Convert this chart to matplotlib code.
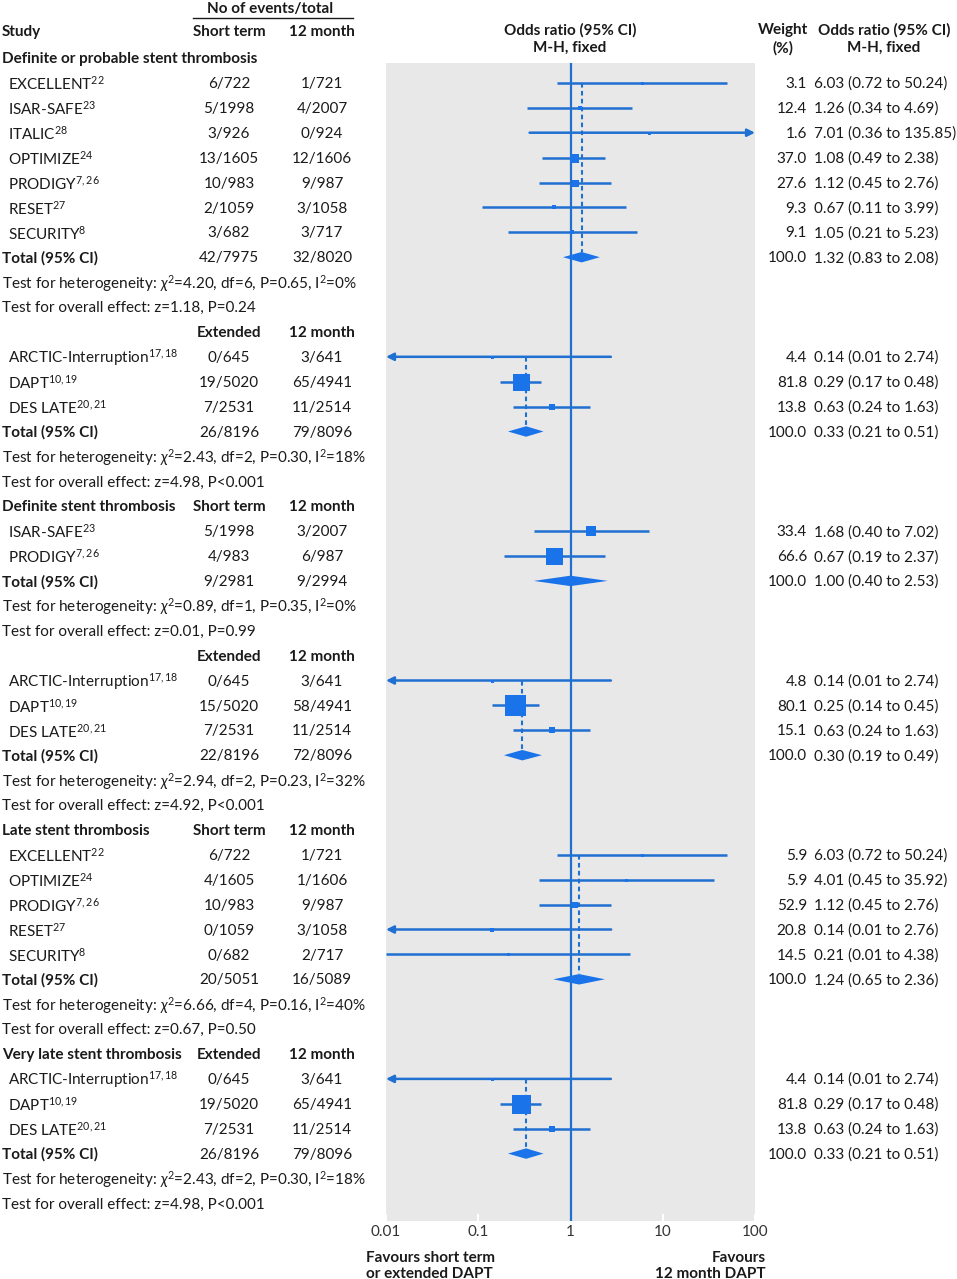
import numpy as np
import matplotlib
matplotlib.use("Agg")
import matplotlib.pyplot as plt

# Fonte e mathtext (para os sobrescritos)
plt.rcParams['font.family'] = ['Lato', 'DejaVu Sans']
plt.rcParams['mathtext.fontset'] = 'custom'
plt.rcParams['mathtext.rm'] = 'Lato'
plt.rcParams['mathtext.it'] = 'Lato:italic'
plt.rcParams['mathtext.bf'] = 'Lato:bold'

# ---------------- dados ----------------
group_titles = ["Definite or probable stent thrombosis", "", "Definite stent thrombosis",
                "", "Late stent thrombosis", "Very late stent thrombosis"]
group_arms = ["", "Extended", "Short term", "Extended", "Short term", "Extended"]

study_group = [0, 0, 0, 0, 0, 0, 0, 1, 1, 1, 2, 2, 3, 3, 3, 4, 4, 4, 4, 4, 5, 5, 5]
study_names = ["EXCELLENT$^{\\mathrm{22}}$", "ISAR-SAFE$^{\\mathrm{23}}$", "ITALIC$^{\\mathrm{28}}$",
               "OPTIMIZE$^{\\mathrm{24}}$", "PRODIGY$^{\\mathrm{7,26}}$", "RESET$^{\\mathrm{27}}$",
               "SECURITY$^{\\mathrm{8}}$",
               "ARCTIC-Interruption$^{\\mathrm{17,18}}$", "DAPT$^{\\mathrm{10,19}}$", "DES LATE$^{\\mathrm{20,21}}$",
               "ISAR-SAFE$^{\\mathrm{23}}$", "PRODIGY$^{\\mathrm{7,26}}$",
               "ARCTIC-Interruption$^{\\mathrm{17,18}}$", "DAPT$^{\\mathrm{10,19}}$", "DES LATE$^{\\mathrm{20,21}}$",
               "EXCELLENT$^{\\mathrm{22}}$", "OPTIMIZE$^{\\mathrm{24}}$", "PRODIGY$^{\\mathrm{7,26}}$",
               "RESET$^{\\mathrm{27}}$", "SECURITY$^{\\mathrm{8}}$",
               "ARCTIC-Interruption$^{\\mathrm{17,18}}$", "DAPT$^{\\mathrm{10,19}}$", "DES LATE$^{\\mathrm{20,21}}$"]
events_a = ["6/722", "5/1998", "3/926", "13/1605", "10/983", "2/1059", "3/682",
            "0/645", "19/5020", "7/2531",
            "5/1998", "4/983",
            "0/645", "15/5020", "7/2531",
            "6/722", "4/1605", "10/983", "0/1059", "0/682",
            "0/645", "19/5020", "7/2531"]
events_b = ["1/721", "4/2007", "0/924", "12/1606", "9/987", "3/1058", "3/717",
            "3/641", "65/4941", "11/2514",
            "3/2007", "6/987",
            "3/641", "58/4941", "11/2514",
            "1/721", "1/1606", "9/987", "3/1058", "2/717",
            "3/641", "65/4941", "11/2514"]
weights = [3.1, 12.4, 1.6, 37.0, 27.6, 9.3, 9.1,
           4.4, 81.8, 13.8,
           33.4, 66.6,
           4.8, 80.1, 15.1,
           5.9, 5.9, 52.9, 20.8, 14.5,
           4.4, 81.8, 13.8]
odds = [6.03, 1.26, 7.01, 1.08, 1.12, 0.67, 1.05,
        0.14, 0.29, 0.63,
        1.68, 0.67,
        0.14, 0.25, 0.63,
        6.03, 4.01, 1.12, 0.14, 0.21,
        0.14, 0.29, 0.63]
ci_lo = [0.72, 0.34, 0.36, 0.49, 0.45, 0.11, 0.21,
         0.01, 0.17, 0.24,
         0.40, 0.19,
         0.01, 0.14, 0.24,
         0.72, 0.45, 0.45, 0.01, 0.01,
         0.01, 0.17, 0.24]
ci_hi = [50.24, 4.69, 135.85, 2.38, 2.76, 3.99, 5.23,
         2.74, 0.48, 1.63,
         7.02, 2.37,
         2.74, 0.45, 1.63,
         50.24, 35.92, 2.76, 2.76, 4.38,
         2.74, 0.48, 1.63]
# intervalos que saem do eixo (seta)
clipped = ["", "", ">", "", "", "", "",
           "<", "", "",
           "", "",
           "<", "", "",
           "", "", "", "<", "",
           "<", "", ""]

total_a = ["42/7975", "26/8196", "9/2981", "22/8196", "20/5051", "26/8196"]
total_b = ["32/8020", "79/8096", "9/2994", "72/8096", "16/5089", "79/8096"]
total_or = [1.32, 0.33, 1.00, 0.30, 1.24, 0.33]
total_lo = [0.83, 0.21, 0.40, 0.19, 0.65, 0.21]
total_hi = [2.08, 0.51, 2.53, 0.49, 2.36, 0.51]
het_chi2 = ["4.20", "2.43", "0.89", "2.94", "6.66", "2.43"]
het_df = [6, 2, 1, 2, 4, 2]
het_p = ["0.65", "0.30", "0.35", "0.23", "0.16", "0.30"]
het_i2 = [0, 18, 0, 32, 40, 18]
eff_z = ["1.18", "4.98", "0.01", "4.92", "0.67", "4.98"]
eff_p = ["P=0.24", "P<0.001", "P=0.99", "P<0.001", "P=0.50", "P<0.001"]

# tamanho dos quadrados (px)
box_px = [3, 4, 3, 9, 7, 4, 4,
          3, 17, 6,
          10, 17,
          3, 21, 6,
          3, 3, 6, 4, 3,
          3, 19, 6]

# ---------------- estilo ----------------
W, H = 957, 1279
ROW0, DY = 58, 24.9
BLUE = '#2070d2'
BOX = '#1a73e8'
GREY = '#e8e8e8'
TXT = '#1a1a1a'
FS = 11
TOFF = 0.045  # deslocamento vertical do texto (linhas)


def px2row(y):
    return (y - ROW0) / DY


fig = plt.figure(figsize=(W / 100, H / 100), dpi=100)

# eixo de texto: x em pixels, y em linhas
tx = fig.add_axes([0, 0, 1, 1])
tx.set_xlim(0, W)
tx.set_ylim(px2row(H), px2row(0))
tx.axis('off')

# eixo do forest plot
top_px, bot_px, left_px, right_px = 63, 1221, 386, 755
ax = fig.add_axes([left_px / W, 1 - bot_px / H, (right_px - left_px) / W, (bot_px - top_px) / H])
ax.set_facecolor(GREY)
ax.set_xscale('log')
ax.set_xlim(0.01, 100)
ax.set_ylim(px2row(bot_px), px2row(top_px))
for s in ax.spines.values():
    s.set_visible(False)
ax.set_yticks([])
ax.set_xticks([0.01, 0.1, 1, 10, 100])
ax.set_xticklabels(["0.01", "0.1", "1", "10", "100"])
ax.minorticks_off()
ax.tick_params(axis='x', direction='in', color='white', length=5, width=1.5,
               labelsize=FS, labelcolor='#333333', pad=3)

ax.axvline(1, color=BLUE, lw=1.6, zorder=2)


def t(x, r, s, ha='left', bold=False, **kw):
    tx.text(x, r + TOFF, s, ha=ha, va='center', fontsize=FS, color=TXT,
            fontweight='bold' if bold else 'normal', **kw)


# cabeçalho
t(270, px2row(8), "No of events/total", ha='center', bold=True)
tx.plot([193, 353], [px2row(18), px2row(18)], color=TXT, lw=1)
t(2, px2row(31), "Study", bold=True)
t(229, px2row(31), "Short term", ha='center', bold=True)
t(322, px2row(31), "12 month", ha='center', bold=True)
t(570, px2row(29), "Odds ratio (95% CI)", ha='center', bold=True)
t(570, px2row(47), "M-H, fixed", ha='center', bold=True)
t(783, px2row(29), "Weight", ha='center', bold=True)
t(783, px2row(47), "(%)", ha='center', bold=True)
t(884, px2row(29), "Odds ratio (95% CI)", ha='center', bold=True)
t(884, px2row(47), "M-H, fixed", ha='center', bold=True)

row = 0
idx = np.array(study_group)
for g in range(len(group_titles)):
    t(2, row, group_titles[g], bold=True)
    if group_arms[g]:
        t(229, row, group_arms[g], ha='center', bold=True)
        t(322, row, "12 month", ha='center', bold=True)
    row += 1
    first = row
    for i in np.where(idx == g)[0]:
        t(8, row, study_names[i])
        t(229, row, events_a[i], ha='center')
        t(322, row, events_b[i], ha='center')
        t(807, row, f"{weights[i]:.1f}", ha='right')
        t(814, row, f"{odds[i]:.2f} ({ci_lo[i]:.2f} to {ci_hi[i]:.2f})")
        # intervalo de confiança
        if clipped[i] == '<':
            ax.annotate('', xy=(0.01, row), xytext=(ci_hi[i], row),
                        arrowprops=dict(arrowstyle='-|>', color=BLUE, lw=1.8,
                                        mutation_scale=11, shrinkA=0, shrinkB=0), zorder=3)
        elif clipped[i] == '>':
            ax.annotate('', xy=(100, row), xytext=(ci_lo[i], row),
                        arrowprops=dict(arrowstyle='-|>', color=BLUE, lw=1.8,
                                        mutation_scale=11, shrinkA=0, shrinkB=0), zorder=3)
        else:
            ax.plot([ci_lo[i], ci_hi[i]], [row, row], color=BLUE, lw=1.8,
                    solid_capstyle='butt', zorder=3, clip_on=True)
        ax.plot(odds[i], row, marker='s', ms=box_px[i] * 0.72, color=BOX,
                mec=BOX, mew=0, zorder=4)
        row += 1
    # total
    t(2, row, "Total (95% CI)", bold=True)
    t(229, row, total_a[g], ha='center')
    t(322, row, total_b[g], ha='center')
    t(807, row, "100.0", ha='right')
    t(814, row, f"{total_or[g]:.2f} ({total_lo[g]:.2f} to {total_hi[g]:.2f})")
    hh = 0.21
    ax.fill([total_lo[g], total_or[g], total_hi[g], total_or[g]],
            [row, row - hh, row, row + hh], color=BOX, lw=0, zorder=4)
    if abs(total_or[g] - 1) > 0.005:
        ax.plot([total_or[g], total_or[g]], [first, row - hh], color=BLUE, lw=1.5,
                ls=(0, (2.2, 1.6)), zorder=3)
    row += 1
    t(2, row, f"Test for heterogeneity: $\\chi^2$={het_chi2[g]}, df={het_df[g]}, "
              f"P={het_p[g]}, I$^2$={het_i2[g]}%")
    row += 1
    t(2, row, f"Test for overall effect: z={eff_z[g]}, {eff_p[g]}")
    row += 1

# rodapé
t(366, px2row(1257), "Favours short term", bold=True)
t(366, px2row(1273), "or extended DAPT", bold=True)
t(766, px2row(1257), "Favours", ha='right', bold=True)
t(766, px2row(1273), "12 month DAPT", ha='right', bold=True)

fig.savefig("out.png", dpi=100, facecolor='white')
